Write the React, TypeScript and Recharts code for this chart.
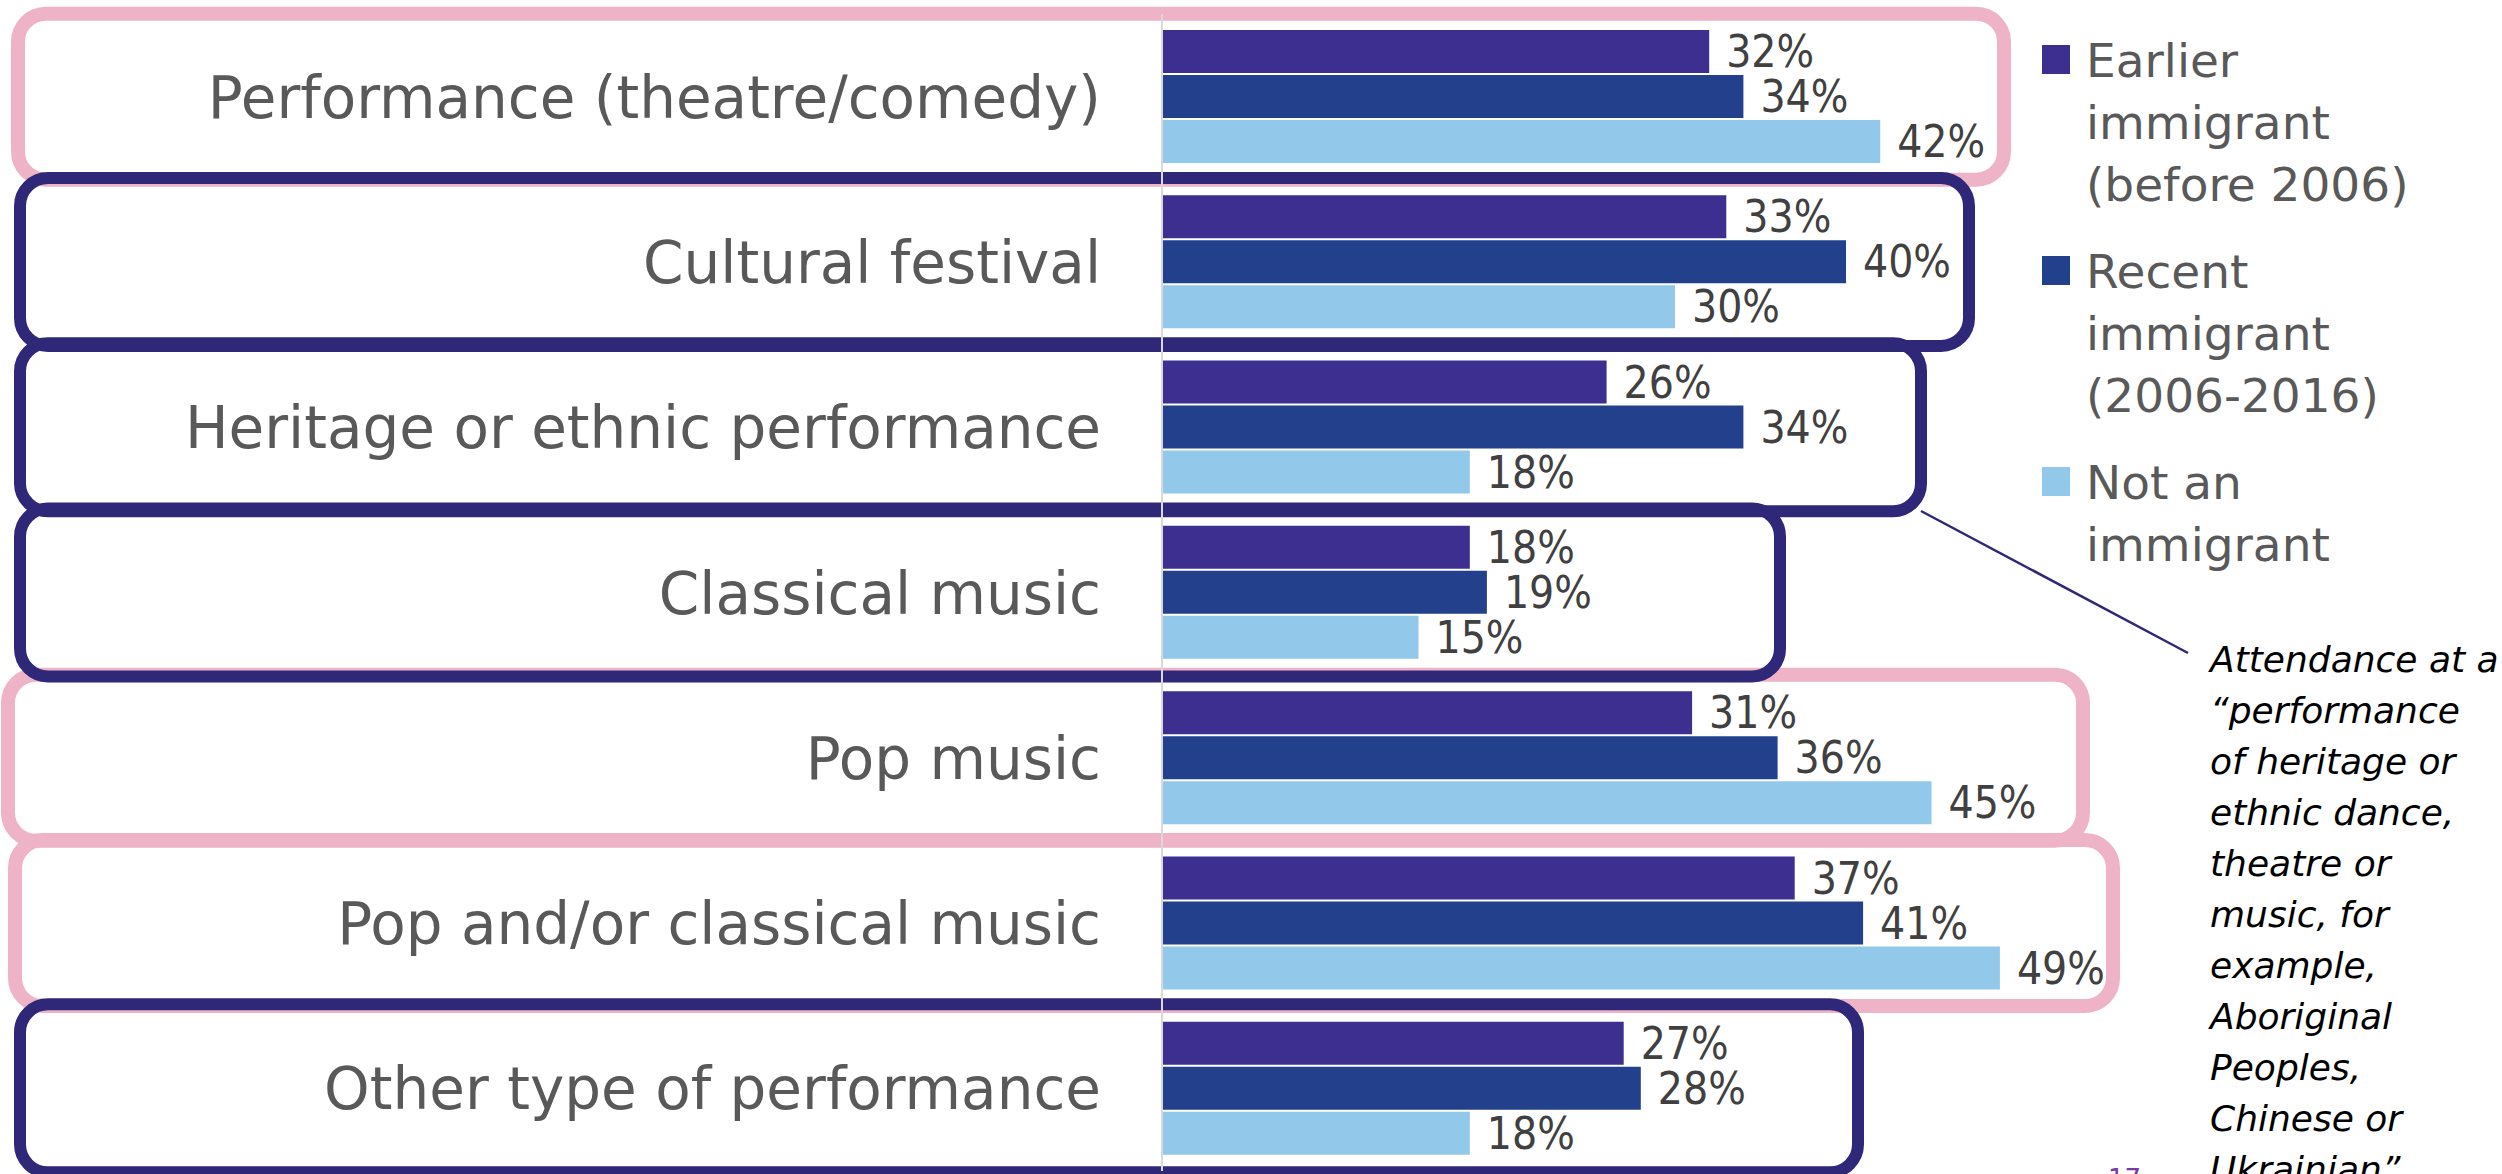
import React from "react";
import { Bar, BarChart, LabelList, Legend, ReferenceArea, XAxis, YAxis } from "recharts";

const categories = [
  "Performance (theatre/comedy)",
  "Cultural festival",
  "Heritage or ethnic performance",
  "Classical music",
  "Pop music",
  "Pop and/or classical music",
  "Other type of performance",
];

const earlierImmigrant = [32, 33, 26, 18, 31, 37, 27];
const recentImmigrant = [34, 40, 34, 19, 36, 41, 28];
const notImmigrant = [42, 30, 18, 15, 45, 49, 18];

const seriesNames = [
  "Earlier immigrant (before 2006)",
  "Recent immigrant (2006-2016)",
  "Not an immigrant",
];

const noteLines = [
  "Attendance at a",
  "\u201Cperformance",
  "of heritage or",
  "ethnic dance,",
  "theatre or",
  "music, for",
  "example,",
  "Aboriginal",
  "Peoples,",
  "Chinese or",
  "Ukrainian\u201D",
];

// highlight frame around each row: colour and horizontal extent (px)
const boxKinds = ["pink", "navy", "navy", "navy", "pink", "pink", "navy"];
const boxLeft = [11, 14, 14, 14, 1, 8, 14];
const boxRight = [2011, 1975, 1927, 1786, 2090, 2120, 1864];

const PURPLE = "#3d2f8f";
const BLUE = "#22408b";
const LIGHT = "#92c8ea";
const PINK = "#eeb3c7";
const NAVY = "#2f2777";

const W = 2502;
const H = 1174;

const chartData = categories.map((name, i) => ({
  name,
  earlier: earlierImmigrant[i],
  recent: recentImmigrant[i],
  notImm: notImmigrant[i],
}));

const valueFont = "'Liberation Sans Narrow', 'DejaVu Sans Condensed', sans-serif";

function CategoryTick(props: any) {
  const { x, y, payload } = props;
  return (
    <text
      x={x}
      y={y}
      dy={21}
      textAnchor="end"
      fontSize={58}
      fill="#595959"
      fontFamily="'DejaVu Sans', sans-serif"
    >
      {payload.value}
    </text>
  );
}

function makeBox(i: number) {
  return (props: any) => {
    const { y, height } = props;
    const pink = boxKinds[i] === "pink";
    const sw = pink ? 14 : 12;
    const cy = y + height / 2;
    const half = 90;
    return (
      <rect
        x={boxLeft[i] + sw / 2}
        y={cy - half + sw / 2}
        width={boxRight[i] - boxLeft[i] - sw}
        height={half * 2 - sw}
        rx={28}
        ry={28}
        fill="none"
        stroke={pink ? PINK : NAVY}
        strokeWidth={sw}
      />
    );
  };
}

function LegendContent(props: any) {
  const payload = [...(props.payload || [])].sort(
    (a: any, b: any) => seriesNames.indexOf(a.value) - seriesNames.indexOf(b.value)
  );
  return (
    <div
      style={{
        fontFamily: "'DejaVu Sans', sans-serif",
        fontSize: 47,
        lineHeight: "62px",
        color: "#595959",
      }}
    >
      {payload.map((entry: any) => (
        <div
          key={entry.value}
          style={{ display: "flex", alignItems: "flex-start", marginBottom: 25 }}
        >
          <div
            style={{
              width: 28,
              height: 29,
              background: entry.color,
              marginTop: 15,
              flexShrink: 0,
            }}
          />
          <div style={{ marginLeft: 16, width: 370 }}>{entry.value}</div>
        </div>
      ))}
    </div>
  );
}

export default function App() {
  const order = [0, 1, 2, 3, 4, 5, 6].sort(
    (a, b) => (boxKinds[a] === "pink" ? 0 : 1) - (boxKinds[b] === "pink" ? 0 : 1)
  );

  return (
    <div
      style={{
        position: "absolute",
        left: 0,
        top: 0,
        width: W,
        height: H,
        overflow: "hidden",
        background: "#fff",
      }}
    >
      <BarChart
        width={W}
        height={H}
        data={chartData}
        layout="vertical"
        margin={{ top: 14, right: 314, bottom: 3, left: 0 }}
        barSize={43}
        barGap={2}
      >
        <XAxis type="number" domain={[0, 60]} hide />
        <YAxis
          type="category"
          dataKey="name"
          width={1162}
          interval={0}
          tickLine={false}
          tickSize={0}
          tickMargin={61}
          axisLine={{ stroke: "#d9d9d9", strokeWidth: 2 }}
          tick={<CategoryTick />}
        />
        {order.map((i) => (
          <ReferenceArea
            key={categories[i]}
            y1={categories[i]}
            y2={categories[i]}
            ifOverflow="visible"
            shape={makeBox(i)}
          />
        ))}
        <Legend
          layout="vertical"
          align="center"
          verticalAlign="middle"
          itemSorter={null as any}
          wrapperStyle={{ left: 2042, top: 30, width: 450 }}
          content={<LegendContent />}
        />
        <Bar dataKey="earlier" name={seriesNames[0]} fill={PURPLE} isAnimationActive={false}>
          <LabelList
            dataKey="earlier"
            position="right"
            offset={17}
            formatter={(v: any) => `${v}%`}
            fill="#404040"
            fontSize={44}
            fontFamily={valueFont}
          />
        </Bar>
        <Bar dataKey="recent" name={seriesNames[1]} fill={BLUE} isAnimationActive={false}>
          <LabelList
            dataKey="recent"
            position="right"
            offset={17}
            formatter={(v: any) => `${v}%`}
            fill="#404040"
            fontSize={44}
            fontFamily={valueFont}
          />
        </Bar>
        <Bar dataKey="notImm" name={seriesNames[2]} fill={LIGHT} isAnimationActive={false}>
          <LabelList
            dataKey="notImm"
            position="right"
            offset={17}
            formatter={(v: any) => `${v}%`}
            fill="#404040"
            fontSize={44}
            fontFamily={valueFont}
          />
        </Bar>
      </BarChart>

      <svg
        width={W}
        height={H}
        style={{ position: "absolute", left: 0, top: 0, pointerEvents: "none" }}
      >
        <line x1={1921} y1={511} x2={2188} y2={653} stroke={NAVY} strokeWidth={2.5} />
        <text
          x={2108}
          y={1188}
          fontSize={26}
          fill="#7a3a9e"
          fontFamily="'DejaVu Sans', sans-serif"
        >
          17
        </text>
      </svg>

      <div
        style={{
          position: "absolute",
          left: 2210,
          top: 634,
          fontFamily: "'DejaVu Sans', sans-serif",
          fontStyle: "italic",
          fontSize: 36,
          lineHeight: "51px",
          color: "#000",
          whiteSpace: "nowrap",
        }}
      >
        {noteLines.map((line) => (
          <div key={line}>{line}</div>
        ))}
      </div>
    </div>
  );
}
